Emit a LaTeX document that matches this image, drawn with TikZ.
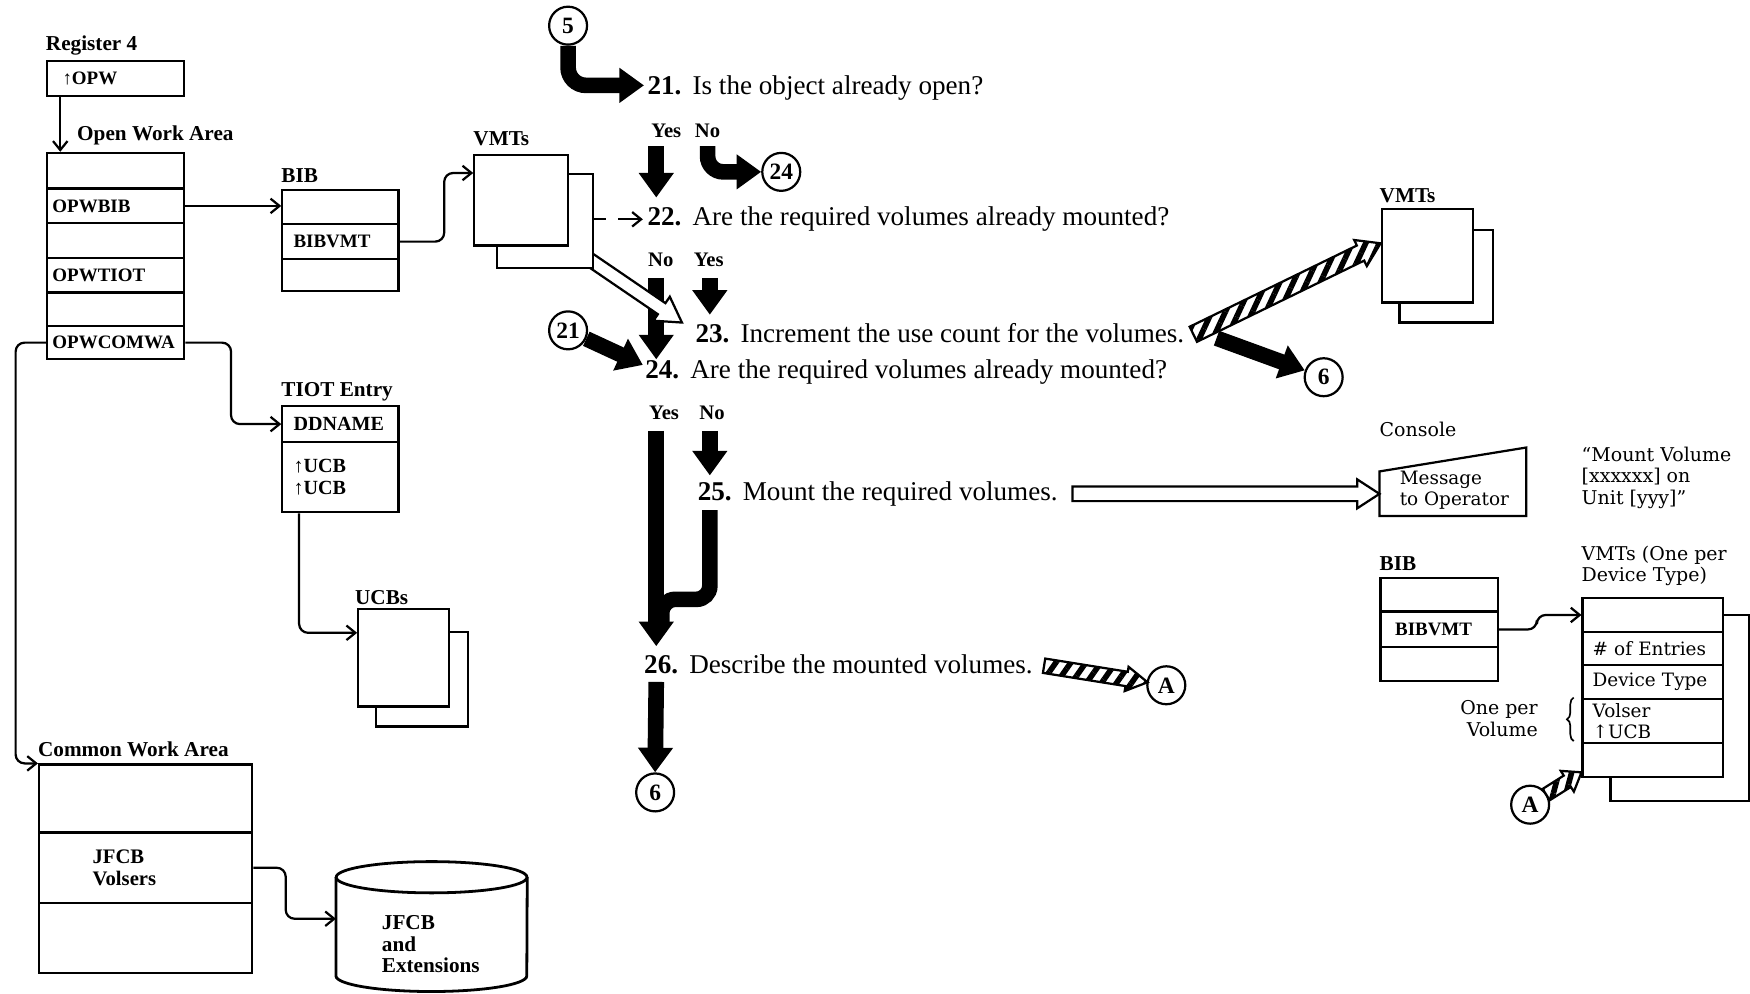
\documentclass[tikz,border=0pt]{standalone}
\usepackage{fontspec}
\setmainfont{Liberation Serif}
\newfontfamily\widefont{DejaVu Serif}
\usetikzlibrary{arrows.meta,calc,patterns.meta,decorations.pathreplacing}

% broad arrow drawn as an outlined polygon:
% #1 name, #2 tail, #3 tip, #4 half shaft width, #5 half head width, #6 head length, #7 style
\newcommand\widearrow[7]{%
  \coordinate (#1-h) at ($(#3)!#6!(#2)$);
  \draw[#7] ($(#2)!#4!90:(#3)$) -- ($(#1-h)!#4!90:(#3)$) -- ($(#1-h)!#5!90:(#3)$)
    -- (#3) -- ($(#1-h)!#5!-90:(#3)$) -- ($(#1-h)!#4!-90:(#3)$) -- ($(#2)!#4!-90:(#3)$) -- cycle;
}

\begin{document}
\begin{tikzpicture}[x=1pt,y=-1pt,
  box/.style={draw, line width=2pt, fill=white, inner sep=0pt},
  cell/.style={box, anchor=north west, inner xsep=5pt, inner ysep=0pt, align=left,
    font=\bfseries\fontsize{17}{20}\selectfont},
  vcell/.style={cell, font=\widefont\fontsize{16.5}{19}\selectfont},
  sheet/.style={box, anchor=north west},
  lbl/.style={anchor=west, inner sep=0pt, align=left, yshift=-2pt, font=\bfseries\fontsize{19}{19.5}\selectfont},
  wlbl/.style={anchor=west, inner sep=0pt, align=left, font=\widefont\fontsize{17}{19.5}\selectfont},
  steptext/.style={anchor=west, inner sep=0pt, yshift=-2.5pt, font=\fontsize{24.3}{28}\selectfont},
  yn/.style={inner sep=0pt, font=\bfseries\fontsize{18.5}{20}\selectfont},
  circ/.style={circle, draw, line width=2pt, minimum size=34pt, inner sep=0pt, fill=white,
    font=\bfseries\fontsize{21}{21}\selectfont},
  conn/.style={line width=2pt, rounded corners=8pt, -{Straight Barb[length=8pt,width=13pt]}},
  flow/.style={line width=14pt, -{Triangle[length=22pt,width=30pt]}},
  hollow/.style={draw, line width=2pt, fill=white},
  hatch/.style={draw, line width=2pt, preaction={fill=white},
    pattern={Lines[angle=#1,distance=11pt,line width=5pt]}},
]
\useasboundingbox (0,0) rectangle (1568,890);

% ---------------- step texts ----------------
\node[steptext] (s21) at (580,76)  {\textbf{21.}\hspace{10pt}Is the object already open?};
\node[steptext] (s22) at (580,194) {\textbf{22.}\hspace{10pt}Are the required volumes already mounted?};
\node[steptext] (s23) at (623,296) {\textbf{23.}\hspace{10pt}Increment the use count for the volumes.};
\node[steptext] (s24) at (578,331) {\textbf{24.}\hspace{10pt}Are the required volumes already mounted?};
\node[steptext] (s25) at (625,440) {\textbf{25.}\hspace{10pt}Mount the required volumes.};
\node[steptext] (s26) at (577,593) {\textbf{26.}\hspace{10pt}Describe the mounted volumes.};

% ---------------- decision labels ----------------
\node[yn] (yes21) at (597,117) {Yes};
\node[yn] (no21)  at (634,117) {No};
\node[yn] (no22)  at (592,233) {No};
\node[yn] (yes22) at (635,233) {Yes};
\node[yn] (yes24) at (595,370) {Yes};
\node[yn] (no24)  at (638,370) {No};

% ---------------- connectors (off-page) ----------------
\node[circ] (c5)  at (509,23)   {5};
\node[circ] (c24) at (700,154)  {24};
\node[circ] (c21) at (509,296)  {21};
\node[circ] (c6a) at (1186,338) {6};
\node[circ] (cA)  at (1045,614) {A};
\node[circ] (c6b) at (587,710)  {6};
\node[circ] (cA2) at (1371,721) {A};

% ---------------- main flow arrows ----------------
\coordinate (n22s) at (588,249);
\coordinate (n22e) at (588,322);
\draw[flow] (n22s) -- (n22e);

% hollow pointer from the VMTs to step 23 (tail hidden under the sheets)
\coordinate (hoA) at (526,231);
\coordinate (hoB) at (611,289);
\widearrow{ho}{hoA}{hoB}{6pt}{13pt}{22pt}{hollow}

% ---------------- left-hand control blocks ----------------
\node[lbl] (lreg) at (41,39) {Register 4};
\node[cell, text width=113pt, minimum height=31pt] (reg) at (41,54) {\hspace*{9pt}↑OPW};

\node[lbl] (lowa) at (69,119) {Open Work Area};
\node[cell, text width=113pt, minimum height=32pt] (owa1) at (41,136) {};
\node[cell, text width=113pt, minimum height=31pt] (owa2) at (41,168) {OPWBIB};
\node[cell, text width=113pt, minimum height=31pt] (owa3) at (41,199) {};
\node[cell, text width=113pt, minimum height=31pt] (owa4) at (41,230) {OPWTIOT};
\node[cell, text width=113pt, minimum height=30pt] (owa5) at (41,261) {};
\node[cell, text width=113pt, minimum height=30pt] (owa6) at (41,291) {OPWCOMWA};

\node[lbl] (lbib) at (252,155) {BIB};
\node[cell, text width=94pt, minimum height=31pt] (bib1) at (252,169) {};
\node[cell, text width=94pt, minimum height=31pt] (bib2) at (252,200) {\hspace*{5pt}BIBVMT};
\node[cell, text width=94pt, minimum height=29pt] (bib3) at (252,231) {};

\node[lbl] (lvA) at (424,122) {VMTs};
\node[sheet, minimum width=86pt, minimum height=84pt] (vAb) at (444,155) {};
\node[sheet, minimum width=84pt, minimum height=81pt] (vAf) at (424,138) {};

\node[lbl] (ltiot) at (252,349) {TIOT Entry};
\node[cell, text width=94pt, minimum height=32pt, font=\bfseries\fontsize{18}{20}\selectfont] (tiot1) at (252,363) {\hspace*{5pt}DDNAME};
\node[cell, text width=94pt, minimum height=63pt, font=\bfseries\fontsize{18}{20}\selectfont] (tiot2) at (252,395) {\hspace*{5pt}↑UCB\\\hspace*{5pt}↑UCB};

\node[lbl] (lucb) at (318,533) {UCBs};
\node[sheet, minimum width=82pt, minimum height=85pt] (ucbb) at (336,565) {};
\node[sheet, minimum width=81pt, minimum height=87pt] (ucbf) at (320,545) {};

\node[lbl] (lcwa) at (34,669) {Common Work Area};
\node[cell, text width=181pt, minimum height=61pt] (cwa1) at (34,684) {};
\node[cell, text width=181pt, minimum height=63pt, font=\bfseries\fontsize{18.5}{19}\selectfont] (cwa2) at (34,745)
  {\hspace*{43pt}JFCB\\\hspace*{43pt}Volsers};
\node[cell, text width=181pt, minimum height=63pt] (cwa3) at (34,808) {};

% data set on disk
\node[inner sep=0pt, minimum width=171pt, minimum height=88pt, anchor=north west] (cyl) at (301,786) {};
\draw[line width=2.5pt] (cyl.north west) -- (cyl.south west)
  arc[start angle=180, end angle=360, x radius=85.5pt, y radius=14pt] -- (cyl.north east);
\draw[line width=2.5pt] (cyl.north) ellipse [x radius=85.5pt, y radius=14pt];
\node[lbl] (cyltext) at (342,844) {JFCB\\and\\Extensions};

% ---------------- right-hand blocks ----------------
\node[lbl] (lvB) at (1236,173) {VMTs};
\node[sheet, minimum width=84pt, minimum height=83pt] (vBb) at (1253,205) {};
\node[sheet, minimum width=82pt, minimum height=84pt] (vBf) at (1237,186) {};

\node[wlbl] (lcon) at (1236,385) {Console};
\node[inner sep=0pt, minimum width=131pt, minimum height=61pt, anchor=north west] (console) at (1236,401) {};
\draw[line width=2pt] (console.south west) -- ($(console.south west)+(0,-40)$)
  -- (console.north east) -- (console.south east) -- cycle;
\node[wlbl, font=\widefont\fontsize{16.5}{19}\selectfont] (msg) at (1254,439) {Message\\to Operator};
\node[wlbl] (quote) at (1417,428) {“Mount Volume\\{[}xxxxxx{]} on\\Unit {[}yyy{]}”};

\node[lbl] (lbib2) at (1236,503) {BIB};
\node[cell, text width=95pt, minimum height=30pt] (bbib1) at (1236,517) {};
\node[cell, text width=95pt, minimum height=32pt] (bbib2) at (1236,547) {\hspace*{8pt}BIBVMT};
\node[cell, text width=95pt, minimum height=30pt] (bbib3) at (1236,579) {};

\node[wlbl] (lv3) at (1417,507) {VMTs (One per\\Device Type)};
\node[sheet, minimum width=124pt, minimum height=167pt] (v3b) at (1442,550) {};
\node[vcell, text width=116pt, minimum height=30pt] (v1) at (1417,535) {};
\node[vcell, text width=116pt, minimum height=30pt] (v2) at (1417,565) {\hspace*{4pt}\# of Entries};
\node[vcell, text width=116pt, minimum height=30pt] (v3) at (1417,595) {\hspace*{4pt}Device Type};
\node[vcell, text width=116pt, minimum height=40pt] (v4) at (1417,625) {\hspace*{4pt}Volser\\\hspace*{4pt}↑UCB};
\node[vcell, text width=116pt, minimum height=30pt] (v5) at (1417,665) {};
\node[wlbl, anchor=east, align=right] (oneper) at (1378,644) {One per\\Volume};
\draw[line width=1.5pt, decorate, decoration={brace, amplitude=6pt}] (1410,664) -- (1410,625);

% ---------------- pointer connectors ----------------
\draw[conn] ($(reg.south west)+(13,0)$) -- ($(owa1.north west)+(13,0)$);
\draw[conn] (owa2.east) -- (owa2.east -| bib1.west);
\draw[conn] (bib2.east) -- ++(40,0) |- ($(vAf.north west)+(0,17)$);
\draw[conn] (owa6.east) -- ++(41,0) |- (tiot1.west);
\draw[conn] ($(tiot2.south west)+(16,0)$) |- ($(ucbf.north west)+(0,22)$);
\draw[conn] (owa6.west) -- ++(-27,0) |- (cwa1.north west);
\draw[conn] (cwa2.east) -- ++(29,0) |- ($(cyl.west)+(0,-7)$);
\draw[conn] (bbib2.east) -- ++(34,0) |- (v1.west);
\draw[line width=2pt, dash pattern=on 11pt off 11pt on 40pt, -{Straight Barb[length=8pt,width=13pt]}]
  (vAb.east |- s22.west) -- ($(s22.west)+(-4,0)$);

% ---------------- remaining flow arrows ----------------
\draw[flow, rounded corners=16pt] (c5.south) |- ($(s21.west)+(-3,-2)$);
\coordinate (y21s) at (588,131);
\coordinate (y21e) at (588,177);
\draw[flow] (y21s) -- (y21e);
\coordinate (n21s) at (634,131);
\draw[flow, rounded corners=14pt] (n21s) |- (c24.west);
\coordinate (y22s) at (636,249);
\coordinate (y22e) at (636,282);
\draw[flow] (y22s) -- (y22e);
\coordinate (t24) at (576,327);
\draw[flow] (c21) -- (t24);
\coordinate (y24s) at (588,386);
\coordinate (y24e) at (588,579);
\draw[flow] (y24s) -- (y24e);
\coordinate (n24s) at (636,386);
\coordinate (n24e) at (636,426);
\draw[flow] (n24s) -- (n24e);
\coordinate (m25a) at (636,457);
\coordinate (m25b) at (593,560);
\draw[line width=14pt, rounded corners=12pt] (m25a) |- ($(m25b)+(0,-23)$) -- (m25b);
\coordinate (d26) at (588,611);
\draw[flow] (d26) -- (c6b.north);
\coordinate (t6s) at (1090,303);
\draw[flow] (t6s) -- (c6a);

% message to the console
\coordinate (h25a) at ($(s25.east)+(13,0)$);
\coordinate (h25b) at (console.south west |- s25.east);
\widearrow{hm}{h25a}{h25b}{6.5pt}{13pt}{20pt}{hollow}

% VMT references (hatched)
\coordinate (t23) at ($(s23.east)+(8,1)$);
\coordinate (vBtip) at ($(vBf.north west)+(0,32)$);
\widearrow{hb}{t23}{vBtip}{7.5pt}{13pt}{20pt}{hatch=65}

\coordinate (t26) at ($(s26.east)+(10,1)$);
\coordinate (cAtip) at ($(cA)!17pt!(t26)$);
\widearrow{hd}{t26}{cAtip}{6.5pt}{11pt}{19pt}{hatch=55}

\coordinate (v5tip) at ($(v5.south west)+(0,-5)$);
\coordinate (cA2t) at ($(cA2)!17pt!(v5tip)$);
\widearrow{he}{cA2t}{v5tip}{6pt}{11pt}{15pt}{hatch=75}

\end{tikzpicture}
\end{document}
